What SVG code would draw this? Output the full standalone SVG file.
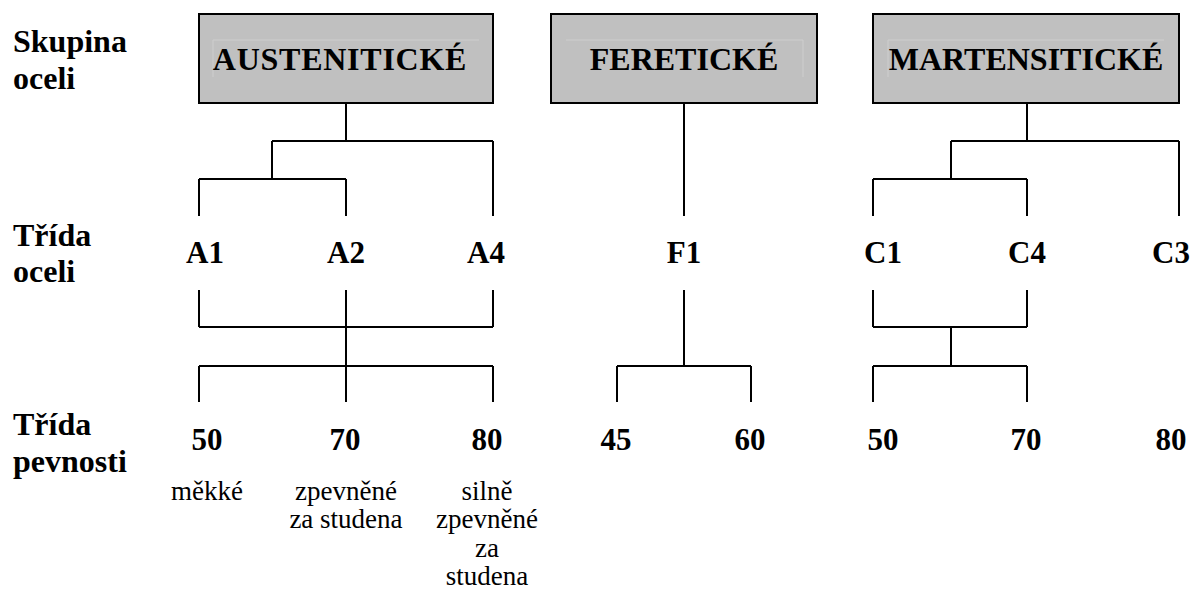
<svg xmlns="http://www.w3.org/2000/svg" width="1191" height="594" viewBox="0 0 1191 594">
<style>
.bx{fill:#c0c0c0;stroke:#000;stroke-width:2}
.fr{fill:none;stroke:#cecece;stroke-width:1}
.t{font-family:"Liberation Serif","Times New Roman",Tinos,"DejaVu Serif",serif;font-weight:bold;font-size:31px;fill:#000}
.lb{font-size:32px}
.bt{font-family:"Liberation Serif","Times New Roman",Tinos,"DejaVu Serif",serif;font-weight:bold;font-size:32px;fill:#000;text-anchor:middle}
.c{text-anchor:middle}
.n{font-family:"Liberation Serif","Times New Roman",Tinos,"DejaVu Serif",serif;font-weight:normal;font-style:normal;font-size:27px;fill:#000;text-anchor:middle}
.ln{fill:none;stroke:#000;stroke-width:2}
</style>
<rect width="1191" height="594" fill="#fff"/>
<g id="row-labels">
<text class="t lb" x="13" y="52">Skupina</text>
<text class="t lb" x="13" y="89">oceli</text>
<text class="t lb" x="13" y="246">Třída</text>
<text class="t lb" x="13" y="282">oceli</text>
<text class="t lb" x="13" y="435">Třída</text>
<text class="t lb" x="13" y="472">pevnosti</text>
</g>
<g id="austeniticke">
<rect class="bx" x="199" y="14" width="294" height="89"/>
<path class="fr" d="M213 77V40H479"/>
<text class="bt" x="340" y="70" letter-spacing="0.75">AUSTENITICKÉ</text>
</g>
<g id="feriticke">
<rect class="bx" x="551" y="14" width="266" height="89"/>
<path class="fr" d="M566 40H803V77"/>
<text class="bt" x="684" y="70">FERETICKÉ</text>
</g>
<g id="martensiticke">
<rect class="bx" x="873" y="14" width="306" height="89"/>
<path class="fr" d="M888 77V40H1164"/>
<text class="bt" x="1026" y="70">MARTENSITICKÉ</text>
</g>
<g id="A1"><text class="t c" x="205" y="263">A1</text></g>
<g id="A2"><text class="t c" x="346" y="263">A2</text></g>
<g id="A4"><text class="t c" x="486" y="263">A4</text></g>
<g id="F1"><text class="t c" x="684" y="263">F1</text></g>
<g id="C1"><text class="t c" x="883" y="263">C1</text></g>
<g id="C4"><text class="t c" x="1027" y="263">C4</text></g>
<g id="C3"><text class="t c" x="1171" y="263">C3</text></g>
<g id="A-50"><text class="t c" x="207" y="450">50</text>
<text class="n" x="207" y="500">měkké</text></g>
<g id="A-70"><text class="t c" x="345" y="450">70</text>
<text class="n" x="346" y="500">zpevněné</text>
<text class="n" x="346" y="528">za studena</text></g>
<g id="A-80"><text class="t c" x="487" y="450">80</text>
<text class="n" x="487" y="500">silně</text>
<text class="n" x="487" y="528">zpevněné</text>
<text class="n" x="487" y="557">za</text>
<text class="n" x="487" y="585">studena</text></g>
<g id="F-45"><text class="t c" x="616" y="450">45</text></g>
<g id="F-60"><text class="t c" x="750" y="450">60</text></g>
<g id="C-50"><text class="t c" x="883" y="450">50</text></g>
<g id="C-70"><text class="t c" x="1026" y="450">70</text></g>
<g id="C-80"><text class="t c" x="1171" y="450">80</text></g>
<g id="connectors">
<path class="ln" d="M346 103V141M272 141H493M272 141V179M199 179H346M199 179V216M346 179V216M493 141V216"/>
<path class="ln" d="M684 103V216"/>
<path class="ln" d="M1027 103V141M951 141H1179M951 141V179M873 179H1027M873 179V216M1027 179V216M1179 141V216"/>
<path class="ln" d="M199 290V327M493 290V327M199 327H493M346 290V402M199 366H493M199 366V402M493 366V402"/>
<path class="ln" d="M684 290V366M617 366H751M617 366V402M751 366V402"/>
<path class="ln" d="M873 290V327M1027 290V327M873 327H1027M951 327V366M873 366H1027M873 366V402M1027 366V402"/>
</g>
</svg>
